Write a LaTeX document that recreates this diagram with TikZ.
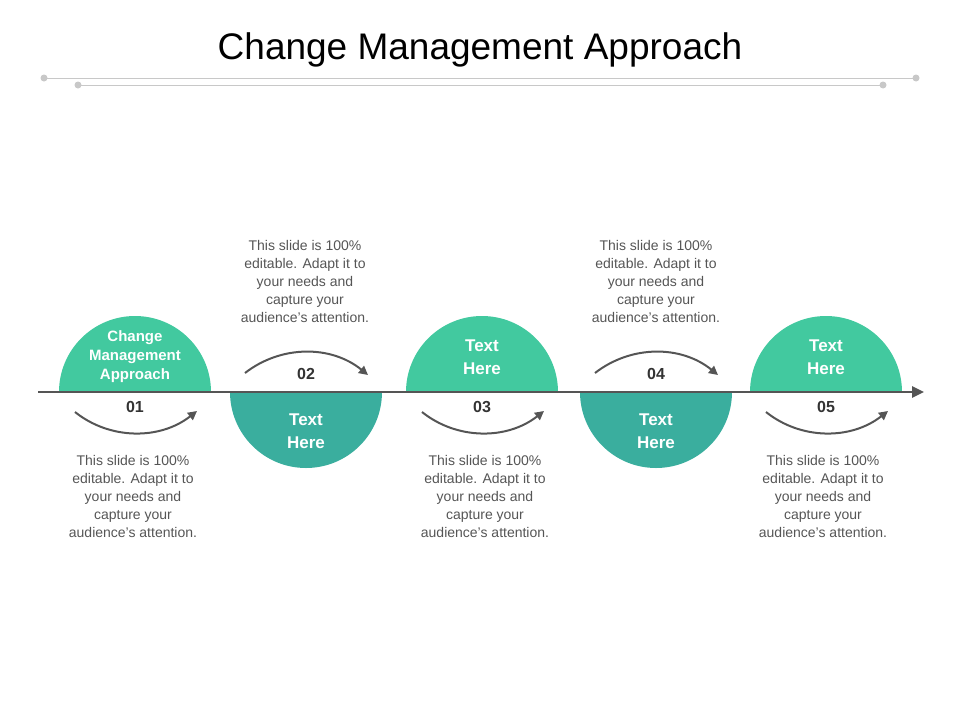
\documentclass[tikz,border=0pt]{standalone}
\usepackage{fontspec}
\setmainfont{Liberation Sans}
\usetikzlibrary{arrows.meta}
\definecolor{lightteal}{HTML}{42C99F}
\definecolor{darkteal}{HTML}{3AAE9E}
\definecolor{axisgray}{HTML}{555555}
\definecolor{rulegray}{HTML}{C8C8C8}
\definecolor{textgray}{HTML}{555555}
\begin{document}
\begin{tikzpicture}[x=1pt,y=-1pt,
	note/.style={align=center,text=textgray,font=\fontsize{14}{18}\selectfont},
	stepnum/.style={font=\fontsize{16}{18}\selectfont\bfseries,text=black!80},
	circlabel/.style={align=center,text=white,font=\fontsize{15}{19}\selectfont\bfseries},
	curvearrow/.style={axisgray,line width=2pt,-{Triangle[length=9pt,width=9pt]}}]
		\useasboundingbox (0,0) rectangle (960,720);
		
		\node (title) at (480,50) {\fontsize{37}{42}\selectfont Change Management Approach};
		\draw[rulegray,line width=1pt] (44,78) -- (916,78);
		\draw[rulegray,line width=1pt] (78,85) -- (883,85);
		\foreach \x/\y in {44/78,916/78,78/85,883/85}
			\fill[rulegray] (\x,\y) circle (3.5);
		
		% half discs
		\foreach \x in {135,482,826}
			\fill[lightteal] (\x-76,392) arc (180:0:76 and -76) -- cycle;
		\foreach \x in {306,656}
			\fill[darkteal] (\x-76,392) arc (180:360:76 and -76) -- cycle;
		
		\draw[axisgray,line width=2.5pt,-{Triangle[length=12pt,width=11pt]}] (38,392) -- (924,392);
		
		\node[circlabel] (c1) at (135,357) {Change\\Management\\Approach};
		\node[circlabel,font=\fontsize{17}{23}\selectfont\bfseries] (c2) at (306,431) {Text\\Here};
		\node[circlabel,font=\fontsize{17}{23}\selectfont\bfseries] (c3) at (482,357) {Text\\Here};
		\node[circlabel,font=\fontsize{17}{23}\selectfont\bfseries] (c4) at (656,431) {Text\\Here};
		\node[circlabel,font=\fontsize{17}{23}\selectfont\bfseries] (c5) at (826,357) {Text\\Here};
		
		\node[stepnum] (n1) at (135,407) {01};
		\node[stepnum] (n2) at (306,374) {02};
		\node[stepnum] (n3) at (482,407) {03};
		\node[stepnum] (n4) at (656,374) {04};
		\node[stepnum] (n5) at (826,407) {05};
		
		% curved arrows
		\foreach \x in {135,482,826}
			\draw[curvearrow] (\x-60,412) .. controls (\x-25,440) and (\x+25,440) .. (\x+62,411);
		\foreach \x in {306,656}
			\draw[curvearrow] (\x-61,373) .. controls (\x-25,345) and (\x+25,345) .. (\x+62,375);
		
		\node[note] (t1) at (133,496) {This slide is 100\%\\editable. Adapt it to\\your needs and\\capture your\\audience's attention.};
		\node[note] (t2) at (305,281) {This slide is 100\%\\editable. Adapt it to\\your needs and\\capture your\\audience's attention.};
		\node[note] (t3) at (485,496) {This slide is 100\%\\editable. Adapt it to\\your needs and\\capture your\\audience's attention.};
		\node[note] (t4) at (656,281) {This slide is 100\%\\editable. Adapt it to\\your needs and\\capture your\\audience's attention.};
		\node[note] (t5) at (823,496) {This slide is 100\%\\editable. Adapt it to\\your needs and\\capture your\\audience's attention.};
	\end{tikzpicture}
\end{document}
